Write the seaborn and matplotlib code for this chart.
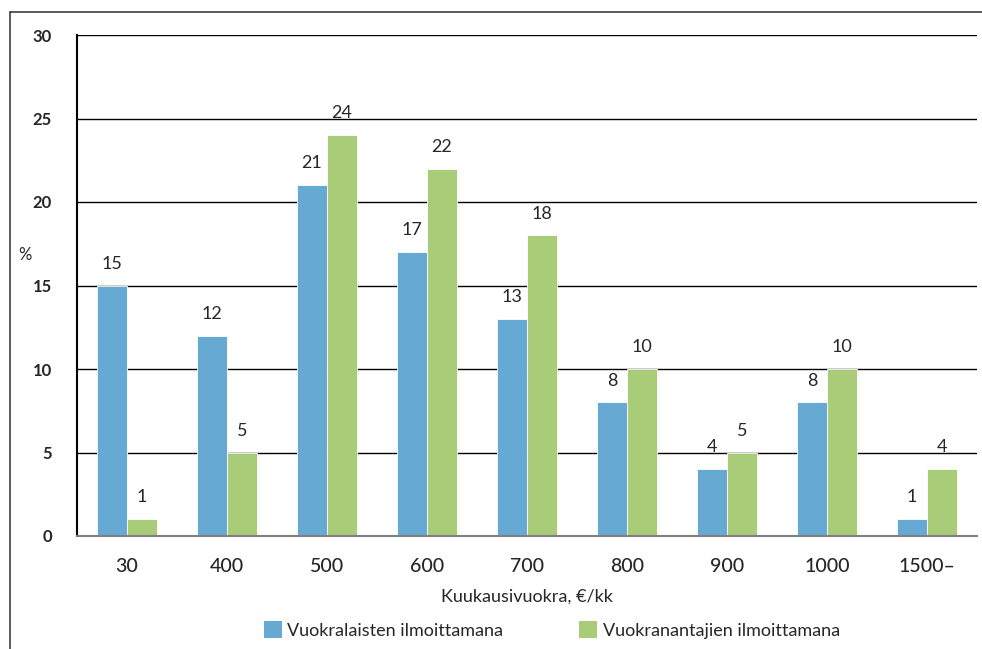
import numpy as np
import pandas as pd
import matplotlib
matplotlib.use("Agg")
import matplotlib.pyplot as plt
import seaborn as sns
from matplotlib.patches import Patch
from matplotlib.lines import Line2D

categories = ["30", "400", "500", "600", "700", "800", "900", "1000", "1500–"]
vuokralaiset = [15, 12, 21, 17, 13, 8, 4, 8, 1]
vuokranantajat = [1, 5, 24, 22, 18, 10, 5, 10, 4]
series_names = ["Vuokralaisten ilmoittamana", "Vuokranantajien ilmoittamana"]
colors = ["#66a9d3", "#a9cc78"]

df = pd.DataFrame({
    "kategoria": categories * 2,
    "arvo": vuokralaiset + vuokranantajat,
    "sarja": [series_names[0]] * len(categories) + [series_names[1]] * len(categories),
})

sns.set_theme(style="white")
plt.rcParams["font.family"] = ["Lato", "DejaVu Sans"]

fig = plt.figure(figsize=(9.82, 6.49), dpi=100)
ax = fig.add_axes([77 / 982, 1 - 536 / 649, 900 / 982, 501 / 649])

sns.barplot(data=df, x="kategoria", y="arvo", hue="sarja", palette=colors,
            saturation=1, width=0.6, ax=ax, legend=False,
            edgecolor="white", linewidth=0.6)

ax.set_ylim(0, 30)
ax.set_xlim(-0.5, len(categories) - 0.5)
ax.set_yticks(range(0, 31, 5))
ax.yaxis.grid(True, color="black", linewidth=1.0)
ax.set_axisbelow(True)
for side in ["top", "right"]:
    ax.spines[side].set_visible(False)
ax.spines["left"].set_color("black")
ax.spines["left"].set_linewidth(1.5)
ax.spines["bottom"].set_color("#808080")
ax.spines["bottom"].set_linewidth(1.5)

ax.tick_params(axis="y", length=0, pad=18, labelsize=12)
for lbl in ax.get_yticklabels():
    lbl.set_fontweight("bold")
ax.tick_params(axis="x", length=0, pad=16, labelsize=14)
for lbl in ax.get_xticklabels():
    lbl.set_fontweight("medium")

ax.set_xlabel("Kuukausivuokra, €/kk", fontsize=13, labelpad=10)
ax.set_ylabel("")
fig.text(25 / 982, 1 - 255 / 649, "%", fontsize=12, ha="center", va="center")

for container in ax.containers:
    ax.bar_label(container, fmt="%d", padding=10, fontsize=13)

handles = [Patch(facecolor=c, edgecolor="none") for c in colors]
fig.legend(handles, series_names, loc="center", bbox_to_anchor=(0.562, 1 - 630 / 649),
           ncol=2, frameon=False, fontsize=13, handlelength=1.0, handleheight=1.0,
           handletextpad=0.3, columnspacing=4.2)

# outer frame (top and left)
fig.add_artist(Line2D([10 / 982, 1.0], [1 - 12 / 649] * 2, color="#404040", linewidth=1.2))
fig.add_artist(Line2D([10 / 982] * 2, [0, 1 - 12 / 649], color="#404040", linewidth=1.2))

fig.savefig("out.png", dpi=100)
